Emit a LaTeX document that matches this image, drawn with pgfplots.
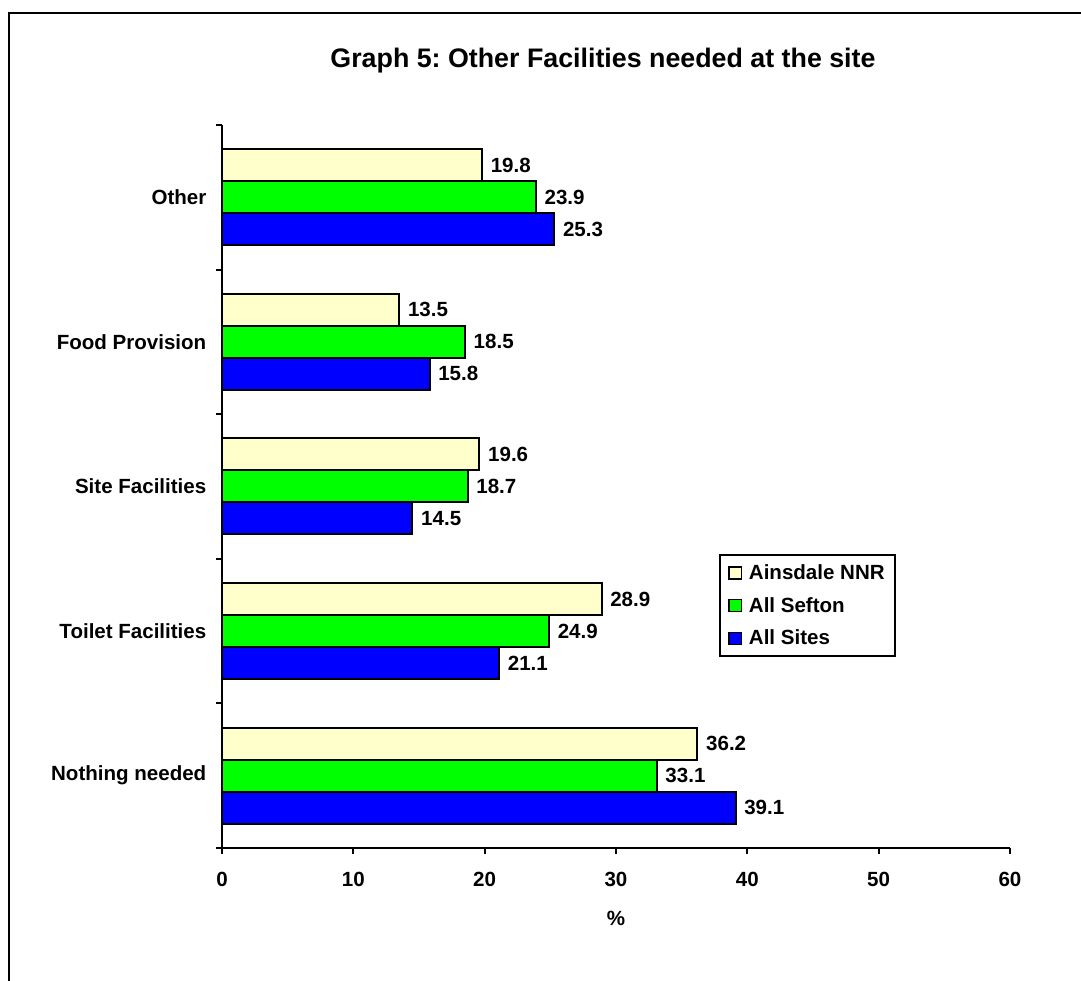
\documentclass[border=0pt]{standalone}
\usepackage{fontspec}
\setmainfont{Liberation Sans}
\usepackage{pgfplots}
\pgfplotsset{compat=1.18}
\definecolor{cream}{RGB}{255,255,204}
\definecolor{vgreen}{RGB}{0,255,0}
\definecolor{vblue}{RGB}{0,0,255}
\newcommand{\lbl}{\fontsize{15.4}{18}\selectfont\bfseries}
\newcommand{\ttl}{\fontsize{20.1}{24}\selectfont\bfseries}
\frenchspacing
\begin{document}
\begin{tikzpicture}
\path[use as bounding box] (0,0) rectangle (810.75pt,735.75pt);
\draw[line width=1.1pt] (6.75pt,0pt) -- (6.75pt,726pt) -- (810.75pt,726pt);
\begin{axis}[
 at={(166.5pt,99.75pt)}, anchor=south west,
 scale only axis, width=591pt, height=542.25pt,
 xbar, bar width=24pt,
 xmin=0, xmax=60, ymin=-0.5, ymax=4.5,
 xtick={0,10,20,30,40,50,60},
 ytick={-0.5,0.5,1.5,2.5,3.5,4.5}, yticklabels={},
 extra y ticks={0,1,2,3,4},
 extra y tick labels={Nothing needed,Toilet Facilities,Site Facilities,Food Provision,Other},
 extra y tick style={tick style={draw=none}},
 yticklabel style={xshift=-3.75pt},
 axis x line*=bottom, axis y line*=left,
 axis line style={line width=1.5pt},
 tick align=outside, major tick length=4.5pt,
 tick style={line width=1.5pt, black},
 tick label style={font=\lbl},
 /pgf/number format/assume math mode=true,
 xticklabel style={yshift=-10pt},
 xlabel={\%},
 xlabel style={font=\lbl, at={(axis description cs:0.5,0)}, anchor=base, yshift=-58pt},
 title={Graph 5: Other Facilities needed at the site},
 title style={font=\ttl, at={(axis description cs:0.5,1)}, anchor=base, yshift=36.75pt, xshift=-9.75pt},
 clip=false,
 point meta=x,
 nodes near coords={\pgfmathprintnumber[fixed,fixed zerofill,precision=1]{\pgfplotspointmeta}},
 every node near coord/.append style={font=\lbl, anchor=west, xshift=2.5pt, black},
 legend cell align=left,
 legend style={at={(axis description cs:0.6307,0.4066)}, anchor=north west, font=\lbl,
   draw=black, line width=1.5pt, inner xsep=6pt, inner ysep=5pt, row sep=8pt,
   /tikz/every odd column/.append style={column sep=3pt}},
 legend image code/.code={\draw[#1, line width=1.2pt, draw=black] (0pt,-4.5pt) rectangle (9.5pt,4.5pt);},
]
\addplot[fill=cream, draw=black, line width=1.5pt, bar shift=24pt]
  coordinates {(36.2,0) (28.9,1) (19.6,2) (13.5,3) (19.8,4)};
\addplot[fill=vgreen, draw=black, line width=1.5pt, bar shift=0pt]
  coordinates {(33.1,0) (24.9,1) (18.7,2) (18.5,3) (23.9,4)};
\addplot[fill=vblue, draw=black, line width=1.5pt, bar shift=-24pt]
  coordinates {(39.1,0) (21.1,1) (14.5,2) (15.8,3) (25.3,4)};
\legend{Ainsdale NNR, All Sefton, All Sites}
\end{axis}
\end{tikzpicture}
\end{document}
